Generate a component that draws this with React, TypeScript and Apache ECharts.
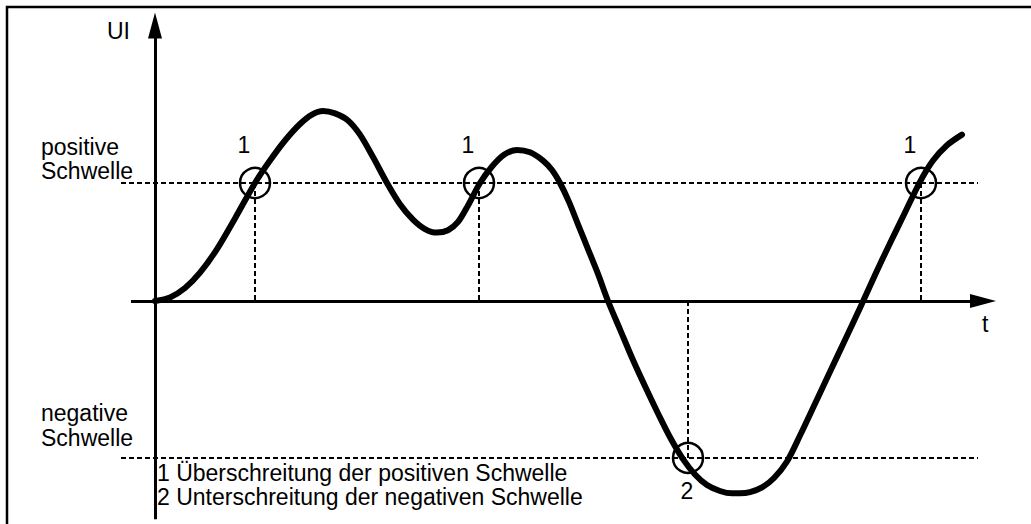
import React, { useEffect, useRef } from "react";
import * as echarts from "echarts";

// Curve: time t and signal UI (units: positive threshold = 1)
const tValues = [
  0, 1.5, 3.0, 4.5, 6.2, 8.0, 10.0, 11.5, 13.0, 14.5, 15.7, 16.8,
  18.0, 19.3, 20.5, 21.8, 23.2, 24.5, 25.8, 27.0, 28.2,
  29.3, 30.3, 31.3, 32.5, 33.7, 34.9, 36.2,
  37.5, 38.8, 39.7, 40.5, 41.4, 42.3, 43.3, 44.3, 45.3,
  46.5, 47.8, 49.1, 50.4, 51.6, 52.8, 54.0, 55.2, 56.5, 57.7, 58.5,
  59.5, 60.7, 61.9, 63.2, 64.5, 66.0, 67.5, 69.0, 70.5,
  72.0, 73.5, 75.0, 76.5, 77.8, 79.2, 80.7,
];
const uValues = [
  0, 0.03, 0.11, 0.24, 0.44, 0.7, 1.0, 1.19, 1.36, 1.5, 1.58, 1.61,
  1.59, 1.53, 1.41, 1.22, 1.0, 0.82, 0.69, 0.61, 0.58,
  0.6, 0.67, 0.81, 1.0, 1.14, 1.24, 1.28,
  1.26, 1.19, 1.11, 1.0, 0.84, 0.65, 0.44, 0.23, 0.0,
  -0.24, -0.5, -0.74, -0.97, -1.17, -1.34, -1.47, -1.56, -1.61, -1.63, -1.63,
  -1.62, -1.58, -1.5, -1.36, -1.14, -0.87, -0.6, -0.33, -0.06,
  0.22, 0.49, 0.75, 1.01, 1.19, 1.32, 1.41,
];

const positiveThreshold = 1.0;
const negativeThreshold = -1.33;

// threshold crossings (t) and their kind (1 = positive exceeded, 2 = negative undershot)
const crossingT = [10.0, 32.4, 53.3, 76.6];
const crossingKind = [1, 1, 2, 1];

// axis extents (data units)
const tAxisStart = -2.4;
const tAxisEnd = 82.8;
const uAxisStart = -1.85;
const uAxisEnd = 2.335;
const thresholdStart = -3.4;
const thresholdEnd = 82.3;

const yAxisName = "UI";
const xAxisName = "t";
const positiveLabel = ["positive", "Schwelle"];
const negativeLabel = ["negative", "Schwelle"];
const legendLines = [
  "1 Überschreitung der positiven Schwelle",
  "2 Unterschreitung der negativen Schwelle",
];

const FONT = '"Liberation Sans", Arial, Helvetica, sans-serif';
const FS = 23;

function textLines(lines: string[], left: number, firstCenter: number, spacing: number) {
  return lines.map((line, i) => ({
    type: "text",
    left,
    top: firstCenter + i * spacing - FS / 2,
    style: { text: line, fontSize: FS, fontFamily: FONT, fill: "#000", lineHeight: FS },
  }));
}

export default function App() {
  const ref = useRef<HTMLDivElement>(null);

  useEffect(() => {
    if (!ref.current) return;
    const chart = echarts.init(ref.current, null, { renderer: "svg" });

    const curve = tValues.map((t, i) => [t, uValues[i]]);
    const levelOf = (k: number) => (k === 1 ? positiveThreshold : negativeThreshold);

    const dashed = { type: [5, 3] as any, color: "#000", width: 2 };
    const dashedLines: any[] = [
      [{ coord: [thresholdStart, positiveThreshold] }, { coord: [thresholdEnd, positiveThreshold] }],
      [{ coord: [thresholdStart, negativeThreshold] }, { coord: [thresholdEnd, negativeThreshold] }],
      ...crossingT.map((t, i) => [{ coord: [t, levelOf(crossingKind[i])] }, { coord: [t, 0] }]),
    ];

    const axisLines: any[] = [
      [{ coord: [tAxisStart, 0] }, { coord: [tAxisEnd, 0] }],
      [{ coord: [0, uAxisStart] }, { coord: [0, uAxisEnd] }],
    ];

    chart.setOption({
      animation: false,
      grid: { left: 85, right: 26, top: 6, bottom: 4.7, containLabel: false },
      xAxis: { type: "value", min: -7, max: 85, show: false },
      yAxis: { type: "value", min: -1.85, max: 2.5, show: false },
      graphic: [
        {
          type: "rect",
          shape: { x: 7, y: 7, width: 1100, height: 700 },
          style: { fill: "none", stroke: "#000", lineWidth: 2.5 },
          silent: true,
        },
        ...textLines([yAxisName], 107, 31, 0),
        ...textLines([xAxisName], 982, 324, 0),
        ...textLines(positiveLabel, 41, 147, 24),
        ...textLines(negativeLabel, 41, 413, 25),
        ...textLines(legendLines, 157, 473, 24),
      ],
      series: [
        {
          type: "line",
          data: curve,
          smooth: 0.3,
          showSymbol: false,
          lineStyle: { color: "#000", width: 6, cap: "round", join: "round" },
          z: 5,
          markLine: {
            silent: true,
            symbol: ["none", "triangle"],
            symbolSize: [14, 26],
            label: { show: false },
            lineStyle: { color: "#000", width: 3, type: "solid" },
            data: axisLines,
            z: 4,
          },
        },
        {
          type: "scatter",
          data: crossingT.map((t, i) => ({
            value: [t, levelOf(crossingKind[i])],
            name: String(crossingKind[i]),
            label: { offset: crossingKind[i] === 1 ? [-11, -38] : [-1, 33] },
          })),
          symbol: "circle",
          symbolSize: 30,
          itemStyle: { color: "rgba(0,0,0,0)", borderColor: "#000", borderWidth: 2.5, opacity: 1 },
          label: {
            show: true,
            position: "inside",
            formatter: (p: any) => p.name,
            color: "#000",
            fontSize: FS,
            fontFamily: FONT,
          },
          emphasis: { disabled: true },
          z: 6,
          markLine: {
            silent: true,
            symbol: ["none", "none"],
            label: { show: false },
            lineStyle: dashed,
            data: dashedLines,
            z: 3,
          },
        },
      ],
    });

    return () => chart.dispose();
  }, []);

  return (
    <div
      ref={ref}
      style={{ position: "fixed", left: 0, top: 0, width: 1031, height: 524, background: "#fff" }}
    />
  );
}
